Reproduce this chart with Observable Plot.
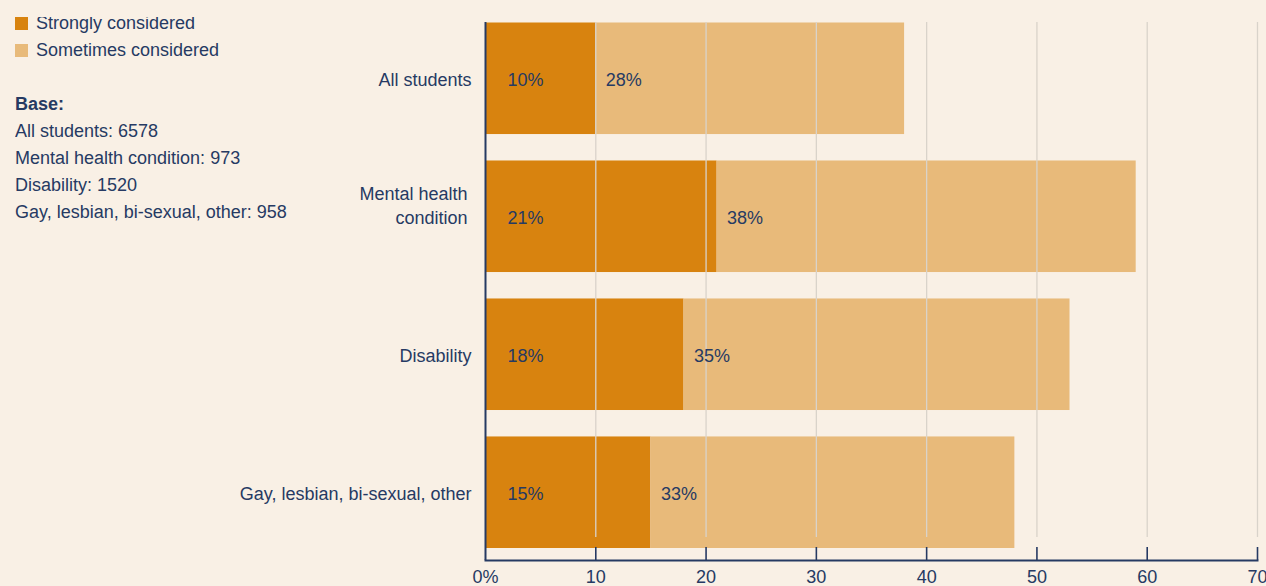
<!DOCTYPE html>
<html><head><meta charset="utf-8">
<script src="https://cdn.jsdelivr.net/npm/d3@7"></script>
<script src="https://cdn.jsdelivr.net/npm/@observablehq/plot@0.6"></script>
<style>
html,body{margin:0;padding:0;background:#f9f0e5;}
body{width:1266px;height:586px;overflow:hidden;position:relative;font-family:"Liberation Sans",Arial,Helvetica,sans-serif;color:#263a63;}
#chart{position:absolute;left:0;top:0;}
#side{position:absolute;left:15px;top:17px;width:320px;height:215px;overflow:hidden;font-size:18px;line-height:27px;}
#side .inner{margin-top:-7.5px;}
#side .row{height:27px;white-space:nowrap;}
#side .sw{display:inline-block;width:13px;height:13px;margin-right:8px;vertical-align:-1px;}
#side b{font-weight:bold;}
</style>
</head><body>
<div id="chart"></div>
<div id="side"><div class="inner" id="sideInner"></div></div>
<script>
// ---- data ----
const categories = ["All students", "Mental health condition", "Disability", "Gay, lesbian, bi-sexual, other"];
const strongly = [10, 21, 18, 15];
const sometimes = [28, 38, 35, 33];
const seriesNames = ["Strongly considered", "Sometimes considered"];
const baseLabels = ["All students: 6578", "Mental health condition: 973", "Disability: 1520", "Gay, lesbian, bi-sexual, other: 958"];
const xTicks = [0, 10, 20, 30, 40, 50, 60, 70];

const colors = ["#d8830f", "#e8ba7a"];
const ink = "#263a63";

const rows = [];
categories.forEach((c, i) => {
  rows.push({cat: c, series: seriesNames[0], value: strongly[i], start: 0});
  rows.push({cat: c, series: seriesNames[1], value: sometimes[i], start: strongly[i]});
});

const W = 1266, H = 586, mTop = 22, mBottom = 26, mLeft = 485, mRight = 9;
const plotH = H - mTop - mBottom;
const displayLabel = d => d === "Mental health condition" ? "Mental health\ncondition" : d;

const chart = Plot.plot({
  width: W, height: H,
  marginTop: mTop, marginBottom: mBottom, marginLeft: mLeft, marginRight: mRight,
  style: {background: "transparent", fontFamily: "Liberation Sans, Arial, sans-serif", fontSize: "18px", color: ink},
  x: {domain: [0, 70]},
  y: {domain: categories, paddingInner: 0.188, paddingOuter: 0.0435, align: 0, round: false},
  color: {domain: seriesNames, range: colors},
  marks: [
    Plot.barX(rows, {y: "cat", x1: "start", x2: d => d.start + d.value, fill: "series", insetTop: 0.5}),
    Plot.gridX(xTicks.filter(d => d > 0), {stroke: "#d9d3ca", strokeOpacity: 1, strokeWidth: 1.3, insetBottom: 23}),
    Plot.text(rows.filter(d => d.series === seriesNames[0]), {y: "cat", x: "start", text: d => d.value + "%", textAnchor: "start", dx: 22, dy: 2, fill: ink, fontSize: 18}),
    Plot.text(rows.filter(d => d.series === seriesNames[1]), {y: "cat", x: "start", text: d => d.value + "%", textAnchor: "start", dx: 10, dy: 2, fill: ink, fontSize: 18}),
    Plot.ruleX(xTicks.filter(d => d > 0), {x: d => d, stroke: ink, strokeWidth: 1.6, insetTop: plotH - 13}),
    Plot.ruleX([0], {stroke: ink, strokeWidth: 2}),
    Plot.frame({anchor: "bottom", stroke: ink, strokeWidth: 2}),
    Plot.axisX({ticks: xTicks, tickFormat: d => d === 0 ? "0%" : String(d), tickSize: 0, tickPadding: 10, fontSize: 18, fill: ink, label: null}),
    Plot.axisY(categories.filter(c => c !== "Mental health condition"), {tickSize: 0, tickPadding: 14, fontSize: 18, fill: ink, label: null, dy: 2}),
    Plot.axisY(["Mental health condition"], {tickSize: 0, tickPadding: 18, fontSize: 18, fill: ink, label: null, tickFormat: displayLabel, lineHeight: 1.33, dy: -12})
  ]
});
document.getElementById("chart").appendChild(chart);

// side legend + base info
const inner = document.getElementById("sideInner");
seriesNames.forEach((s, i) => {
  const r = document.createElement("div"); r.className = "row";
  const sw = document.createElement("span"); sw.className = "sw"; sw.style.background = colors[i];
  r.appendChild(sw); r.appendChild(document.createTextNode(s));
  inner.appendChild(r);
});
inner.appendChild(Object.assign(document.createElement("div"), {className: "row"}));
const b = document.createElement("div"); b.className = "row"; b.innerHTML = "<b>Base:</b>"; inner.appendChild(b);
baseLabels.forEach(t => { const r = document.createElement("div"); r.className = "row"; r.textContent = t; inner.appendChild(r); });
</script>
</body></html>
